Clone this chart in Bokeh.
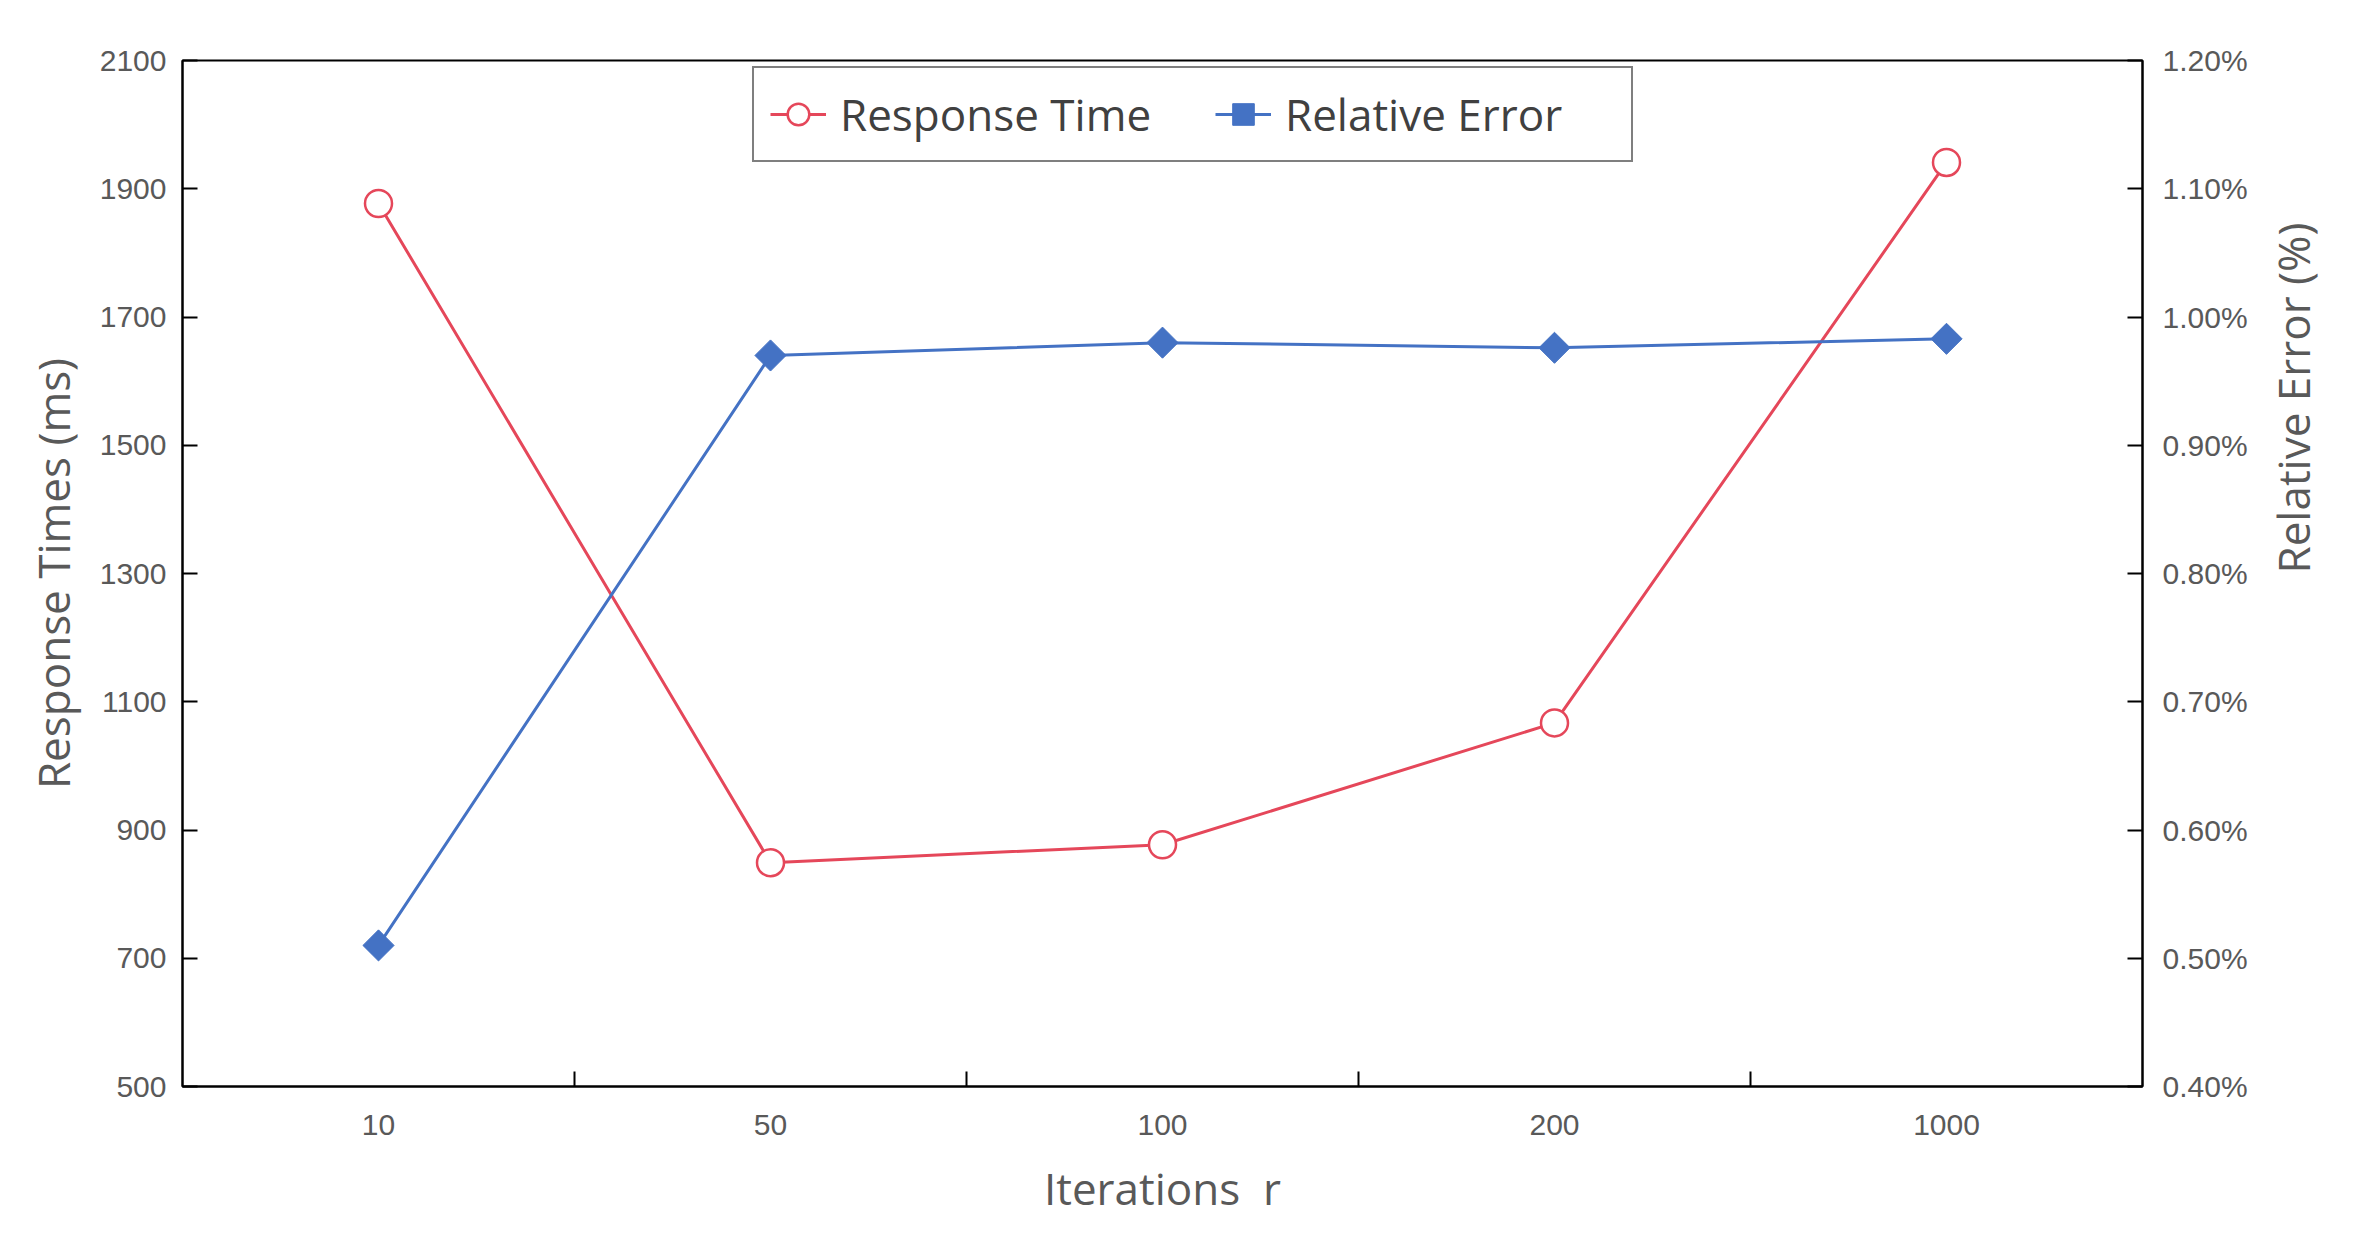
import math
from bokeh.plotting import figure
from bokeh.models import (Range1d, LinearAxis, FixedTicker, PrintfTickFormatter,
                          Legend, LegendItem, ColumnDataSource)
from bokeh.embed import file_html
from bokeh.resources import INLINE

# ---- data ----
iterations = ["10", "50", "100", "200", "1000"]
response_time_ms = [1877, 849, 877, 1067, 1941]
relative_error_pct = [0.510, 0.970, 0.980, 0.976, 0.983]

left_ticks = [500, 700, 900, 1100, 1300, 1500, 1700, 1900, 2100]
right_ticks = [0.40, 0.50, 0.60, 0.70, 0.80, 0.90, 1.00, 1.10, 1.20]

RED = "#E5475A"
BLUE = "#4472C4"
TXT = "#595959"
TICK_FONT = "Liberation Sans"
TITLE_FONT = "Open Sans"
TICK_SIZE = "30px"
TITLE_SIZE = "44px"

n = len(iterations)
xpos = [i + 0.5 for i in range(n)]
src = ColumnDataSource(dict(x=xpos, rt=response_time_ms, re=relative_error_pct))

p = figure(width=2355, height=1247, output_backend="svg", toolbar_location=None,
           x_range=Range1d(0, n), y_range=Range1d(500, 2100),
           min_border_left=182, min_border_right=212, min_border_top=60,
           min_border_bottom=161)
p.extra_y_ranges = {"err": Range1d(0.40, 1.20)}
p.xgrid.visible = False
p.ygrid.visible = False
p.outline_line_color = "black"
p.outline_line_width = 2
p.background_fill_color = "white"
p.border_fill_color = "white"

# x axis: labels at category centres, tick marks at category boundaries
xa = p.xaxis[0]
xa.ticker = FixedTicker(ticks=xpos, minor_ticks=[i for i in range(1, n)])
xa.major_label_overrides = {x: lab for x, lab in zip(xpos, iterations)}
xa.major_tick_line_color = None
xa.minor_tick_in = 15
xa.minor_tick_out = 0
xa.minor_tick_line_color = "black"
xa.minor_tick_line_width = 2
xa.axis_line_color = "black"
xa.axis_line_width = 2
xa.major_label_text_font = TICK_FONT
xa.major_label_text_font_size = TICK_SIZE
xa.major_label_text_color = TXT
xa.major_label_standoff = 22
xa.axis_label = "Iterations\u00a0\u00a0r"
xa.axis_label_text_font = TITLE_FONT
xa.axis_label_text_font_style = "normal"
xa.axis_label_text_font_size = TITLE_SIZE
xa.axis_label_text_color = TXT
xa.axis_label_standoff = 20

# left axis
ya = p.yaxis[0]
ya.ticker = FixedTicker(ticks=left_ticks)
ya.major_tick_in = 15
ya.major_tick_out = 0
ya.major_tick_line_width = 2
ya.minor_tick_line_color = None
ya.axis_line_width = 2
ya.major_label_text_font = TICK_FONT
ya.major_label_text_font_size = TICK_SIZE
ya.major_label_text_color = TXT
ya.major_label_standoff = 16
ya.axis_label = "Response Times (ms)"
ya.axis_label_text_font = TITLE_FONT
ya.axis_label_text_font_style = "normal"
ya.axis_label_text_font_size = TITLE_SIZE
ya.axis_label_text_color = TXT
ya.axis_label_standoff = 14

# right axis
ra = LinearAxis(y_range_name="err", ticker=FixedTicker(ticks=right_ticks),
                formatter=PrintfTickFormatter(format="%.2f%%"))
ra.major_tick_in = 15
ra.major_tick_out = 0
ra.major_tick_line_width = 2
ra.minor_tick_line_color = None
ra.axis_line_width = 2
ra.major_label_text_font = TICK_FONT
ra.major_label_text_font_size = TICK_SIZE
ra.major_label_text_color = TXT
ra.major_label_standoff = 20
ra.axis_label = "Relative Error (%)"
ra.axis_label_text_font = TITLE_FONT
ra.axis_label_text_font_style = "normal"
ra.axis_label_text_font_size = TITLE_SIZE
ra.axis_label_text_color = TXT
ra.axis_label_standoff = 42
if "axis_label_orientation" in ra.properties():
    ra.axis_label_orientation = math.pi / 2
p.add_layout(ra, "right")

# series
l1 = p.line("x", "rt", source=src, line_color=RED, line_width=3)
s1 = p.scatter("x", "rt", source=src, marker="circle", size=27,
               fill_color="white", line_color=RED, line_width=2.5)
l2 = p.line("x", "re", source=src, y_range_name="err", line_color=BLUE, line_width=3)
s2 = p.scatter("x", "re", source=src, y_range_name="err", marker="square", size=22,
               angle=math.pi / 4, fill_color=BLUE, line_color=BLUE)

legend = Legend(items=[LegendItem(label="Response Time", renderers=[l1, s1]),
                       LegendItem(label="Relative Error", renderers=[l2, s2])],
                location=(570, 924), orientation="horizontal")
legend.label_text_font = TITLE_FONT
legend.label_text_font_size = TITLE_SIZE
legend.label_text_color = "#404040"
legend.glyph_width = 56
legend.glyph_height = 54
legend.label_height = 20
legend.label_width = 330
legend.label_standoff = 14
legend.spacing = 45
legend.padding = 16
legend.margin = 0
legend.border_line_color = "black"
legend.border_line_width = 2.5
legend.background_fill_alpha = 1
legend.background_fill_color = "white"
p.add_layout(legend, "center")

open("out.html", "w").write(file_html(p, INLINE))
